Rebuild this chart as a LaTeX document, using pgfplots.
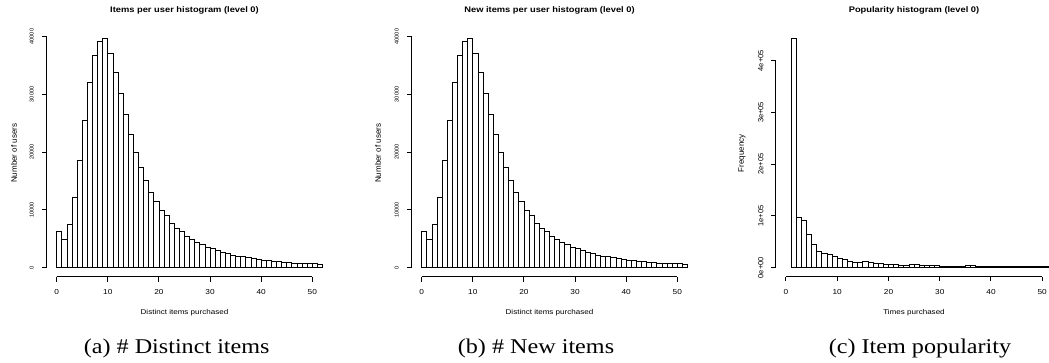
\documentclass[border=0pt]{standalone}
\usepackage{fontspec}
\setmainfont{Liberation Sans}
\newfontfamily\hsans[FakeStretch=1.15]{Liberation Sans}
\newfontfamily\hserif[FakeStretch=1.15]{Liberation Serif}
\usepackage{pgfplots}
\usepackage{pgfplotstable}
\pgfplotsset{compat=1.18}

\newcommand{\fs}[1]{\fontsize{#1pt}{#1pt}\selectfont}

\pgfplotstableread{
x y
0 6230
1 4900
2 7500
3 12100
4 18600
5 25570
6 32150
7 36800
8 39250
9 39650
10 37100
11 33800
12 30200
13 26500
14 23000
15 20000
16 17300
17 15100
18 13050
19 11550
20 9900
21 9000
22 7750
23 6900
24 6250
25 5400
26 4900
27 4400
28 4000
29 3600
30 3300
31 2950
32 2650
33 2500
34 2200
35 2000
36 1950
37 1750
38 1550
39 1500
40 1350
41 1270
42 1150
43 1050
44 1000
45 870
46 800
47 800
48 750
49 700
50 700
51 650
52 0
}\itemsdata

\pgfplotstableread{
x y
1 442500
2 97400
3 92300
4 63900
5 44500
6 31600
7 27700
8 25800
9 21900
10 17400
11 15500
12 12900
13 11000
14 9700
15 11600
16 9700
17 8400
18 7700
19 7100
20 6500
21 5800
22 5200
23 4500
24 6500
25 5800
26 5200
27 4500
28 3900
29 3900
30 3200
31 3200
32 2600
33 2600
34 2600
35 4500
36 3900
37 3200
38 3200
39 2600
40 2600
41 2500
42 2400
43 2300
44 2300
45 2200
46 2200
47 2100
48 2100
49 2000
50 2000
51 2000
51.45 0
}\popdata

\pgfplotsset{
  rhist/.style={
    scale only axis, anchor=south west,
    height=247.4pt,
    hide axis,
    clip=false,
    unbounded coords=jump,
  },
  rbar/.style={ybar interval, draw=black, fill=white, line width=0.75pt},
  raxis/.style={draw=black, line width=1pt, mark=none, forget plot},
}

\begin{document}
\begin{tikzpicture}
\path[use as bounding box] (0,0) rectangle (1049pt,-362pt);

% ---------- (a)
\begin{axis}[rhist, at={(46.5pt,-276.9pt)}, width=276pt,
  xmin=-2, xmax=52, ymin=-1586, ymax=41236]
\addplot[rbar] table {\itemsdata};
\addplot[raxis] coordinates {(0,-1586) (50,-1586)};
\addplot[raxis] coordinates {(-2,0) (-2,40000)};
\addplot[raxis] coordinates {(0,-1586) (0,-2383) (nan,nan) (10,-1586) (10,-2383) (nan,nan) (20,-1586) (20,-2383) (nan,nan) (30,-1586) (30,-2383) (nan,nan) (40,-1586) (40,-2383) (nan,nan) (50,-1586) (50,-2383)};
\addplot[raxis] coordinates {(-2,0) (-2.9,0) (nan,nan) (-2,10000) (-2.9,10000) (nan,nan) (-2,20000) (-2.9,20000) (nan,nan) (-2,30000) (-2.9,30000) (nan,nan) (-2,40000) (-2.9,40000)};
\end{axis}

% ---------- (b)
\begin{axis}[rhist, at={(411.5pt,-276.9pt)}, width=276pt,
  xmin=-2, xmax=52, ymin=-1586, ymax=41236]
\addplot[rbar] table {\itemsdata};
\addplot[raxis] coordinates {(0,-1586) (50,-1586)};
\addplot[raxis] coordinates {(-2,0) (-2,40000)};
\addplot[raxis] coordinates {(0,-1586) (0,-2383) (nan,nan) (10,-1586) (10,-2383) (nan,nan) (20,-1586) (20,-2383) (nan,nan) (30,-1586) (30,-2383) (nan,nan) (40,-1586) (40,-2383) (nan,nan) (50,-1586) (50,-2383)};
\addplot[raxis] coordinates {(-2,0) (-2.9,0) (nan,nan) (-2,10000) (-2.9,10000) (nan,nan) (-2,20000) (-2.9,20000) (nan,nan) (-2,30000) (-2.9,30000) (nan,nan) (-2,40000) (-2.9,40000)};
\end{axis}

% ---------- (c)
\begin{axis}[rhist, at={(775.7pt,-276.86pt)}, width=273.2pt,
  xmin=-2, xmax=51.3, ymin=-17700, ymax=460300]
\addplot[rbar] table {\popdata};
\addplot[raxis] coordinates {(0,-17700) (50,-17700)};
\addplot[raxis] coordinates {(-2,0) (-2,400000)};
\addplot[raxis] coordinates {(0,-17700) (0,-26590) (nan,nan) (10,-17700) (10,-26590) (nan,nan) (20,-17700) (20,-26590) (nan,nan) (30,-17700) (30,-26590) (nan,nan) (40,-17700) (40,-26590) (nan,nan) (50,-17700) (50,-26590)};
\addplot[raxis] coordinates {(-2,0) (-2.9,0) (nan,nan) (-2,100000) (-2.9,100000) (nan,nan) (-2,200000) (-2.9,200000) (nan,nan) (-2,300000) (-2.9,300000) (nan,nan) (-2,400000) (-2.9,400000)};
\end{axis}

% ---------- x tick labels
\foreach \x/\l in {56.72/0,107.83/10,158.94/20,210.06/30,261.17/40,312.28/50,
                   421.72/0,472.83/10,523.94/20,575.06/30,626.17/40,677.28/50,
                   785.95/0,837.2/10,888.5/20,939.8/30,991.0/40,1042.2/50}
  \node[font=\hsans\fs{7.2}] at (\x pt,-292.3pt) {\l};

% ---------- y tick labels
\foreach \y/\l in {267.74/0,209.97/10000,152.2/20000,94.43/30000,36.66/40000} {
  \node[font=\fs{5.6}, rotate=90] at (31.7pt,-\y pt) {\l};
  \node[font=\fs{5.6}, rotate=90] at (396.7pt,-\y pt) {\l};
}
\foreach \y/\l in {267.7/0e+00,215.94/1e+05,164.18/2e+05,112.43/3e+05,60.67/4e+05}
  \node[font=\fs{7.5}, rotate=90] at (760.9pt,-\y pt) {\l};

% ---------- titles
\node[font=\hsans\bfseries\fs{8.1}] at (184.5pt,-10pt) {Items per user histogram (level 0)};
\node[font=\hsans\bfseries\fs{8.1}] at (549.5pt,-10pt) {New items per user histogram (level 0)};
\node[font=\hsans\bfseries\fs{8.1}] at (914pt,-10pt) {Popularity histogram (level 0)};

% ---------- x labels
\node[font=\hsans\fs{7}] at (184.5pt,-312.3pt) {Distinct items purchased};
\node[font=\hsans\fs{7}] at (549.5pt,-312.3pt) {Distinct items purchased};
\node[font=\hsans\fs{7}] at (914pt,-312.3pt) {Times purchased};

% ---------- y labels
\node[font=\fs{8}, rotate=90] at (14pt,-153.25pt) {Number of users};
\node[font=\fs{8}, rotate=90] at (378pt,-153.25pt) {Number of users};
\node[font=\fs{8}, rotate=90] at (742pt,-153.25pt) {Frequency};

% ---------- captions
\node[font=\hserif\fs{21}, anchor=base] at (176.7pt,-353.6pt) {(a) \# Distinct items};
\node[font=\hserif\fs{21}, anchor=base] at (536pt,-353.6pt) {(b) \# New items};
\node[font=\hserif\fs{21}, anchor=base] at (920pt,-353.6pt) {(c) Item popularity};
\end{tikzpicture}
\end{document}
